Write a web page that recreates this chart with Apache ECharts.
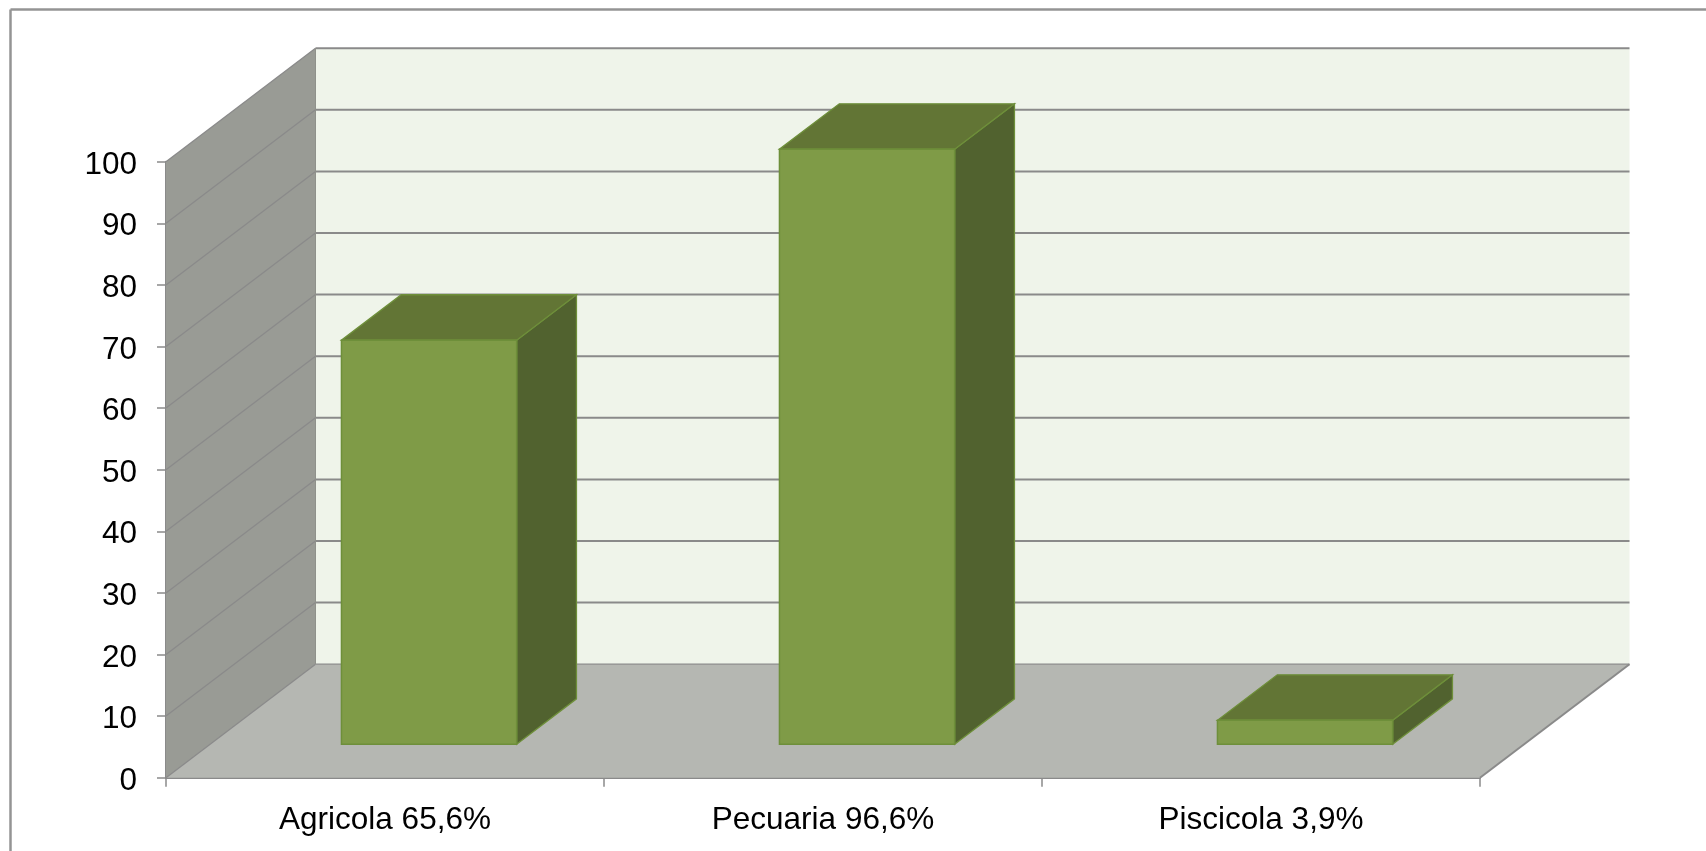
<!DOCTYPE html>
<html>
<head>
<meta charset="utf-8">
<style>html,body{margin:0;padding:0;background:#fff}#c{width:1706px;height:851px}</style>
<script src="https://cdn.jsdelivr.net/npm/echarts@6/dist/echarts.min.js"></script>
</head>
<body>
<div id="c"></div>
<script>
const categories = ['Agricola 65,6%', 'Pecuaria 96,6%', 'Piscicola 3,9%'];
const values = [65.6, 96.6, 3.9];
const yMin = 0, yMax = 100, yStep = 10;
const yTicks = [0, 10, 20, 30, 40, 50, 60, 70, 80, 90, 100];

// Projection of the chart's depth axis on screen
const wallDepth = [149.5, -113.5];
const barShift = 0.2947;   // bar's position along the depth, as share of wall depth
const barDepth = 0.4;      // bar's own depth, as share of wall depth
const barWidthShare = 0.4;

const gridLine = '#8A8A8A';
const C = {
  back: '#EFF4EA', side: '#999B95', floor: '#B5B7B2',
  front: '#7F9B47', top: '#627535', right: '#51622F', edge: '#6E8F3A'
};

function poly(points, fill, stroke, lw, z2) {
  return { type: 'polygon', z2: z2 || 0, shape: { points },
    style: { fill, stroke: stroke || null, lineWidth: lw || 0 } };
}
function seg(a, b, stroke, lw, z2) {
  return { type: 'line', z2: z2 || 1, shape: { x1: a[0], y1: a[1], x2: b[0], y2: b[1] },
    style: { stroke, lineWidth: lw } };
}

function renderWalls(params, api) {
  const cs = params.coordSys;
  const x0 = cs.x, x1 = cs.x + cs.width;
  const [dx, dy] = wallDepth;
  const y0 = api.coord([0, yMin])[1], yT = api.coord([0, yMax])[1];
  const kids = [
    poly([[x0 + dx, y0 + dy], [x1 + dx, y0 + dy], [x1 + dx, yT + dy], [x0 + dx, yT + dy]], C.back),
    poly([[x0, y0], [x1, y0], [x1 + dx, y0 + dy], [x0 + dx, y0 + dy]], C.floor),
    poly([[x0, y0], [x0 + dx, y0 + dy], [x0 + dx, yT + dy], [x0, yT]], C.side)
  ];
  yTicks.forEach(function (t) {
    const y = api.coord([0, t])[1];
    kids.push(seg([x0, y], [x0 + dx, y + dy], gridLine, 1.3));
    kids.push(seg([x0 + dx, y + dy], [x1 + dx, y + dy], gridLine, t === 0 ? 1.2 : 2));
  });
  kids.push(seg([x0 + dx, y0 + dy], [x0 + dx, yT + dy], '#8F918B', 1));
  kids.push(seg([x1, y0], [x1 + dx, y0 + dy], gridLine, 2));
  return { type: 'group', children: kids };
}

function renderBar(params, api) {
  const i = api.value(0), v = api.value(1);
  const w = api.size([1, 0])[0] * barWidthShare;
  const sx = wallDepth[0] * barShift, sy = wallDepth[1] * barShift;
  const dx = wallDepth[0] * barDepth, dy = wallDepth[1] * barDepth;
  const cx = api.coord([i, 0])[0] + sx;
  const yb = api.coord([i, 0])[1] + sy;
  const yt = api.coord([i, v])[1] + sy;
  const l = cx - w / 2, r = cx + w / 2;
  return { type: 'group', children: [
    poly([[r, yb], [r + dx, yb + dy], [r + dx, yt + dy], [r, yt]], C.right, C.edge, 1.3),
    poly([[l, yt], [r, yt], [r + dx, yt + dy], [l + dx, yt + dy]], C.top, C.edge, 1.3),
    poly([[l, yb], [r, yb], [r, yt], [l, yt]], C.front, C.edge, 1.5)
  ]};
}

const chart = echarts.init(document.getElementById('c'), null, { renderer: 'canvas' });
chart.setOption({
  animation: false,
  backgroundColor: '#fff',
  textStyle: { fontFamily: '"Liberation Sans", Arial, sans-serif' },
  graphic: [
    { type: 'line', silent: true, shape: { x1: 10.5, y1: 9.5, x2: 1706, y2: 9.5 }, style: { stroke: '#949494', lineWidth: 2.5 } },
    { type: 'line', silent: true, shape: { x1: 10.5, y1: 9.5, x2: 10.5, y2: 851 }, style: { stroke: '#949494', lineWidth: 2.5 } }
  ],
  grid: { left: 166, right: 226, top: 161.7, bottom: 73.3, containLabel: false },
  xAxis: {
    type: 'category', data: categories, boundaryGap: true,
    axisLine: { show: true, onZero: false, lineStyle: { color: gridLine, width: 2 } },
    axisTick: { show: true, length: 9, alignWithLabel: false, lineStyle: { color: gridLine, width: 1.5 } },
    axisLabel: { color: '#000', fontSize: 31.5, margin: 27, interval: 0 },
    splitLine: { show: false }
  },
  yAxis: {
    type: 'value', min: yMin, max: yMax, interval: yStep,
    axisLine: { show: true, lineStyle: { color: gridLine, width: 2 } },
    axisTick: { show: true, length: 9, lineStyle: { color: gridLine, width: 1.5 } },
    axisLabel: { color: '#000', fontSize: 31.5, margin: 29, formatter: '{a|{value}}',
      rich: { a: { color: '#000', fontSize: 31.5, padding: [7, 0, 0, 0] } } },
    splitLine: { show: false }
  },
  series: [
    { type: 'custom', name: 'walls', z: 1, clip: false, silent: true,
      coordinateSystem: 'cartesian2d', renderItem: renderWalls, data: [[0, 0]] },
    { type: 'custom', name: 'bars', z: 2, clip: false,
      coordinateSystem: 'cartesian2d', renderItem: renderBar,
      encode: { x: 0, y: 1 },
      data: values.map(function (v, i) { return [i, v]; }) }
  ]
});
</script>
</body>
</html>
